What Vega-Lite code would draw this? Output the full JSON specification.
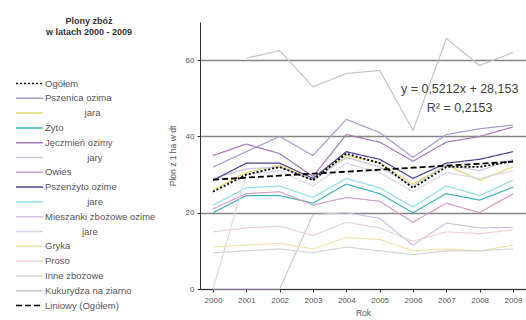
{
  "$schema": "https://vega.github.io/schema/vega-lite/v6.json",
  "width": 326,
  "height": 267,
  "autosize": "none",
  "padding": {"left": 200, "top": 22, "right": 0, "bottom": 31},
  "background": "white",
  "config": {
    "font": "Liberation Sans",
    "view": {"stroke": null},
    "axis": {
      "labelFont": "Liberation Sans",
      "labelFontSize": 8,
      "labelColor": "#555555",
      "titleFont": "Liberation Sans",
      "titleFontSize": 8.5,
      "titleFontWeight": "normal",
      "titleColor": "#555555",
      "domainColor": "#333333",
      "tickColor": "#333333",
      "tickSize": 3,
      "gridColor": "#858585",
      "gridWidth": 1.3
    },
    "legend": {
      "orient": "none",
      "legendX": -178,
      "legendY": -5,
      "padding": 0,
      "symbolType": "M-2,0H2",
      "symbolSize": 182,
      "symbolStrokeWidth": 1.5,
      "labelFont": "Liberation Sans",
      "labelFontSize": 9.5,
      "labelColor": "#555555",
      "labelOffset": 8,
      "rowPadding": 2.8,
      "titleFont": "Liberation Sans",
      "titleFontSize": 9,
      "titleFontWeight": "bold",
      "titleColor": "#333333",
      "titleAnchor": "middle",
      "titleAlign": "center",
      "titleLineHeight": 11,
      "titlePadding": 39
    }
  },
  "datasets": {
    "yields": [
      {"s": "Pszenica ozima", "year": "2000", "v": 32}, {"s": "Pszenica ozima", "year": "2001", "v": 36}, {"s": "Pszenica ozima", "year": "2002", "v": 40}, {"s": "Pszenica ozima", "year": "2003", "v": 35}, {"s": "Pszenica ozima", "year": "2004", "v": 44.5}, {"s": "Pszenica ozima", "year": "2005", "v": 41}, {"s": "Pszenica ozima", "year": "2006", "v": 34.5}, {"s": "Pszenica ozima", "year": "2007", "v": 40.5}, {"s": "Pszenica ozima", "year": "2008", "v": 42}, {"s": "Pszenica ozima", "year": "2009", "v": 43},
      {"s": "Pszenica jara", "year": "2000", "v": 26}, {"s": "Pszenica jara", "year": "2001", "v": 30.5}, {"s": "Pszenica jara", "year": "2002", "v": 32.5}, {"s": "Pszenica jara", "year": "2003", "v": 28.5}, {"s": "Pszenica jara", "year": "2004", "v": 35}, {"s": "Pszenica jara", "year": "2005", "v": 33}, {"s": "Pszenica jara", "year": "2006", "v": 27.5}, {"s": "Pszenica jara", "year": "2007", "v": 32.5}, {"s": "Pszenica jara", "year": "2008", "v": 28.5}, {"s": "Pszenica jara", "year": "2009", "v": 32},
      {"s": "Żyto", "year": "2000", "v": 20}, {"s": "Żyto", "year": "2001", "v": 24.5}, {"s": "Żyto", "year": "2002", "v": 24.5}, {"s": "Żyto", "year": "2003", "v": 22.5}, {"s": "Żyto", "year": "2004", "v": 27.5}, {"s": "Żyto", "year": "2005", "v": 25}, {"s": "Żyto", "year": "2006", "v": 20}, {"s": "Żyto", "year": "2007", "v": 25}, {"s": "Żyto", "year": "2008", "v": 23.3}, {"s": "Żyto", "year": "2009", "v": 26.7},
      {"s": "Jęczmień ozimy", "year": "2000", "v": 35}, {"s": "Jęczmień ozimy", "year": "2001", "v": 38}, {"s": "Jęczmień ozimy", "year": "2002", "v": 35.5}, {"s": "Jęczmień ozimy", "year": "2003", "v": 29.5}, {"s": "Jęczmień ozimy", "year": "2004", "v": 40.5}, {"s": "Jęczmień ozimy", "year": "2005", "v": 38.5}, {"s": "Jęczmień ozimy", "year": "2006", "v": 33.5}, {"s": "Jęczmień ozimy", "year": "2007", "v": 38.5}, {"s": "Jęczmień ozimy", "year": "2008", "v": 40}, {"s": "Jęczmień ozimy", "year": "2009", "v": 42.5},
      {"s": "Jęczmień jary", "year": "2000", "v": 29}, {"s": "Jęczmień jary", "year": "2001", "v": 31.5}, {"s": "Jęczmień jary", "year": "2002", "v": 32}, {"s": "Jęczmień jary", "year": "2003", "v": 28.5}, {"s": "Jęczmień jary", "year": "2004", "v": 34.5}, {"s": "Jęczmień jary", "year": "2005", "v": 32}, {"s": "Jęczmień jary", "year": "2006", "v": 27}, {"s": "Jęczmień jary", "year": "2007", "v": 32.5}, {"s": "Jęczmień jary", "year": "2008", "v": 31}, {"s": "Jęczmień jary", "year": "2009", "v": 34},
      {"s": "Owies", "year": "2000", "v": 21}, {"s": "Owies", "year": "2001", "v": 25}, {"s": "Owies", "year": "2002", "v": 25.5}, {"s": "Owies", "year": "2003", "v": 22}, {"s": "Owies", "year": "2004", "v": 24}, {"s": "Owies", "year": "2005", "v": 23}, {"s": "Owies", "year": "2006", "v": 17.5}, {"s": "Owies", "year": "2007", "v": 22.5}, {"s": "Owies", "year": "2008", "v": 20}, {"s": "Owies", "year": "2009", "v": 25},
      {"s": "Pszenżyto ozime", "year": "2000", "v": 28.5}, {"s": "Pszenżyto ozime", "year": "2001", "v": 33}, {"s": "Pszenżyto ozime", "year": "2002", "v": 33}, {"s": "Pszenżyto ozime", "year": "2003", "v": 29}, {"s": "Pszenżyto ozime", "year": "2004", "v": 36}, {"s": "Pszenżyto ozime", "year": "2005", "v": 34}, {"s": "Pszenżyto ozime", "year": "2006", "v": 29}, {"s": "Pszenżyto ozime", "year": "2007", "v": 33}, {"s": "Pszenżyto ozime", "year": "2008", "v": 34}, {"s": "Pszenżyto ozime", "year": "2009", "v": 36},
      {"s": "Pszenżyto jare", "year": "2000", "v": 22}, {"s": "Pszenżyto jare", "year": "2001", "v": 26.5}, {"s": "Pszenżyto jare", "year": "2002", "v": 27}, {"s": "Pszenżyto jare", "year": "2003", "v": 24}, {"s": "Pszenżyto jare", "year": "2004", "v": 29}, {"s": "Pszenżyto jare", "year": "2005", "v": 26.5}, {"s": "Pszenżyto jare", "year": "2006", "v": 21.5}, {"s": "Pszenżyto jare", "year": "2007", "v": 27}, {"s": "Pszenżyto jare", "year": "2008", "v": 24.5}, {"s": "Pszenżyto jare", "year": "2009", "v": 28.5},
      {"s": "Mieszanki zbożowe ozime", "year": "2000", "v": 0}, {"s": "Mieszanki zbożowe ozime", "year": "2001", "v": 0}, {"s": "Mieszanki zbożowe ozime", "year": "2002", "v": 0}, {"s": "Mieszanki zbożowe ozime", "year": "2003", "v": 19.5}, {"s": "Mieszanki zbożowe ozime", "year": "2004", "v": 20}, {"s": "Mieszanki zbożowe ozime", "year": "2005", "v": 18.5}, {"s": "Mieszanki zbożowe ozime", "year": "2006", "v": 11.5}, {"s": "Mieszanki zbożowe ozime", "year": "2007", "v": 17.3}, {"s": "Mieszanki zbożowe ozime", "year": "2008", "v": 16}, {"s": "Mieszanki zbożowe ozime", "year": "2009", "v": 16.2},
      {"s": "Mieszanki zbożowe jare", "year": "2000", "v": 0}, {"s": "Mieszanki zbożowe jare", "year": "2001", "v": 30}, {"s": "Mieszanki zbożowe jare", "year": "2002", "v": 31}, {"s": "Mieszanki zbożowe jare", "year": "2003", "v": 27}, {"s": "Mieszanki zbożowe jare", "year": "2004", "v": 33}, {"s": "Mieszanki zbożowe jare", "year": "2005", "v": 30.5}, {"s": "Mieszanki zbożowe jare", "year": "2006", "v": 25.5}, {"s": "Mieszanki zbożowe jare", "year": "2007", "v": 30.5}, {"s": "Mieszanki zbożowe jare", "year": "2008", "v": 29}, {"s": "Mieszanki zbożowe jare", "year": "2009", "v": 31},
      {"s": "Gryka", "year": "2000", "v": 11}, {"s": "Gryka", "year": "2001", "v": 11.5}, {"s": "Gryka", "year": "2002", "v": 12}, {"s": "Gryka", "year": "2003", "v": 10.5}, {"s": "Gryka", "year": "2004", "v": 13.5}, {"s": "Gryka", "year": "2005", "v": 13}, {"s": "Gryka", "year": "2006", "v": 10}, {"s": "Gryka", "year": "2007", "v": 10.5}, {"s": "Gryka", "year": "2008", "v": 10}, {"s": "Gryka", "year": "2009", "v": 11.5},
      {"s": "Proso", "year": "2000", "v": 15}, {"s": "Proso", "year": "2001", "v": 16}, {"s": "Proso", "year": "2002", "v": 16.5}, {"s": "Proso", "year": "2003", "v": 14}, {"s": "Proso", "year": "2004", "v": 17.5}, {"s": "Proso", "year": "2005", "v": 16}, {"s": "Proso", "year": "2006", "v": 12.5}, {"s": "Proso", "year": "2007", "v": 15}, {"s": "Proso", "year": "2008", "v": 14.5}, {"s": "Proso", "year": "2009", "v": 15.5},
      {"s": "Inne zbożowe", "year": "2000", "v": 9.5}, {"s": "Inne zbożowe", "year": "2001", "v": 10}, {"s": "Inne zbożowe", "year": "2002", "v": 10.5}, {"s": "Inne zbożowe", "year": "2003", "v": 9.5}, {"s": "Inne zbożowe", "year": "2004", "v": 11}, {"s": "Inne zbożowe", "year": "2005", "v": 10}, {"s": "Inne zbożowe", "year": "2006", "v": 9}, {"s": "Inne zbożowe", "year": "2007", "v": 10}, {"s": "Inne zbożowe", "year": "2008", "v": 10}, {"s": "Inne zbożowe", "year": "2009", "v": 10.5},
      {"s": "Kukurydza na ziarno", "year": "2001", "v": 60.5}, {"s": "Kukurydza na ziarno", "year": "2002", "v": 62.5}, {"s": "Kukurydza na ziarno", "year": "2003", "v": 53}, {"s": "Kukurydza na ziarno", "year": "2004", "v": 56.5}, {"s": "Kukurydza na ziarno", "year": "2005", "v": 57.3}, {"s": "Kukurydza na ziarno", "year": "2006", "v": 41.6}, {"s": "Kukurydza na ziarno", "year": "2007", "v": 65.7}, {"s": "Kukurydza na ziarno", "year": "2008", "v": 58.6}, {"s": "Kukurydza na ziarno", "year": "2009", "v": 62},
      {"s": "Ogółem", "year": "2000", "v": 25.5}, {"s": "Ogółem", "year": "2001", "v": 30}, {"s": "Ogółem", "year": "2002", "v": 32}, {"s": "Ogółem", "year": "2003", "v": 28.5}, {"s": "Ogółem", "year": "2004", "v": 35.5}, {"s": "Ogółem", "year": "2005", "v": 33}, {"s": "Ogółem", "year": "2006", "v": 26.5}, {"s": "Ogółem", "year": "2007", "v": 32}, {"s": "Ogółem", "year": "2008", "v": 32}, {"s": "Ogółem", "year": "2009", "v": 33.5},
      {"s": "Liniowy (Ogółem)", "year": "2000", "v": 28.67}, {"s": "Liniowy (Ogółem)", "year": "2001", "v": 29.2}, {"s": "Liniowy (Ogółem)", "year": "2002", "v": 29.72}, {"s": "Liniowy (Ogółem)", "year": "2003", "v": 30.24}, {"s": "Liniowy (Ogółem)", "year": "2004", "v": 30.76}, {"s": "Liniowy (Ogółem)", "year": "2005", "v": 31.28}, {"s": "Liniowy (Ogółem)", "year": "2006", "v": 31.8}, {"s": "Liniowy (Ogółem)", "year": "2007", "v": 32.32}, {"s": "Liniowy (Ogółem)", "year": "2008", "v": 32.84}, {"s": "Liniowy (Ogółem)", "year": "2009", "v": 33.37}
    ],
    "notes": [
      {"label": "y = 0,5212x + 28,153", "year": "2008", "v": 52.4},
      {"label": "R² = 0,2153", "year": "2008", "v": 47.4}
    ]
  },
  "layer": [
    {
      "data": {"name": "yields"},
      "transform": [{"filter": "datum.s != 'Ogółem' && datum.s != 'Liniowy (Ogółem)'"}],
      "mark": {"type": "line", "strokeWidth": 1.2},
      "encoding": {
        "x": {
          "field": "year", "type": "ordinal",
          "scale": {"type": "point", "padding": 0.39, "domain": ["2000","2001","2002","2003","2004","2005","2006","2007","2008","2009"]},
          "axis": {"title": "Rok", "labelAngle": 0, "grid": false, "labelPadding": 4, "titleY": 23, "titleBaseline": "middle"}
        },
        "y": {
          "field": "v", "type": "quantitative",
          "scale": {"domain": [0, 70], "nice": false},
          "axis": {"title": "Plon z 1 ha w dt", "values": [0,10,20,30,40,50,60,70], "grid": true, "labelPadding": 3, "titleX": -28, "titleY": 133.5, "titleBaseline": "middle"}
        },
        "color": {
          "field": "s", "type": "nominal",
          "scale": {
            "domain": ["Ogółem","Pszenica ozima","Pszenica jara","Żyto","Jęczmień ozimy","Jęczmień jary","Owies","Pszenżyto ozime","Pszenżyto jare","Mieszanki zbożowe ozime","Mieszanki zbożowe jare","Gryka","Proso","Inne zbożowe","Kukurydza na ziarno","Liniowy (Ogółem)"],
            "range": ["#000000","#a59bd0","#e6d66e","#3fb2b8","#a678b8","#c6c6dc","#d0a0c8","#4b4090","#8fdfe6","#cfc0e0","#dcd6ea","#efe4a8","#ecd0dc","#d4d4d4","#c4c4c4","#000000"]
          },
          "legend": {
            "title": ["Plony zbóż", "w latach 2000 - 2009"],
            "labelExpr": "datum.label == 'Pszenica jara' ? '\u200b\u00a0\u00a0\u00a0\u00a0\u00a0\u00a0\u00a0\u00a0\u00a0\u00a0\u00a0\u00a0\u00a0\u00a0\u00a0jara' : datum.label == 'Jęczmień jary' ? '\u200b\u00a0\u00a0\u00a0\u00a0\u00a0\u00a0\u00a0\u00a0\u00a0\u00a0\u00a0\u00a0\u00a0\u00a0\u00a0\u00a0jary' : datum.label == 'Pszenżyto jare' ? '\u200b\u00a0\u00a0\u00a0\u00a0\u00a0\u00a0\u00a0\u00a0\u00a0\u00a0\u00a0\u00a0\u00a0\u00a0\u00a0\u00a0jare' : datum.label == 'Mieszanki zbożowe jare' ? '\u200b\u00a0\u00a0\u00a0\u00a0\u00a0\u00a0\u00a0\u00a0\u00a0\u00a0\u00a0\u00a0\u00a0\u00a0jare' : datum.label"
          }
        },
        "strokeDash": {
          "field": "s", "type": "nominal",
          "scale": {
            "domain": ["Ogółem","Pszenica ozima","Pszenica jara","Żyto","Jęczmień ozimy","Jęczmień jary","Owies","Pszenżyto ozime","Pszenżyto jare","Mieszanki zbożowe ozime","Mieszanki zbożowe jare","Gryka","Proso","Inne zbożowe","Kukurydza na ziarno","Liniowy (Ogółem)"],
            "range": [[2,2],[1,0],[1,0],[1,0],[1,0],[1,0],[1,0],[1,0],[1,0],[1,0],[1,0],[1,0],[1,0],[1,0],[1,0],[6,3]]
          },
          "legend": {
            "title": ["Plony zbóż", "w latach 2000 - 2009"],
            "labelExpr": "datum.label == 'Pszenica jara' ? '\u200b\u00a0\u00a0\u00a0\u00a0\u00a0\u00a0\u00a0\u00a0\u00a0\u00a0\u00a0\u00a0\u00a0\u00a0\u00a0jara' : datum.label == 'Jęczmień jary' ? '\u200b\u00a0\u00a0\u00a0\u00a0\u00a0\u00a0\u00a0\u00a0\u00a0\u00a0\u00a0\u00a0\u00a0\u00a0\u00a0\u00a0jary' : datum.label == 'Pszenżyto jare' ? '\u200b\u00a0\u00a0\u00a0\u00a0\u00a0\u00a0\u00a0\u00a0\u00a0\u00a0\u00a0\u00a0\u00a0\u00a0\u00a0\u00a0jare' : datum.label == 'Mieszanki zbożowe jare' ? '\u200b\u00a0\u00a0\u00a0\u00a0\u00a0\u00a0\u00a0\u00a0\u00a0\u00a0\u00a0\u00a0\u00a0\u00a0jare' : datum.label"
          }
        }
      }
    },
    {
      "data": {"name": "yields"},
      "transform": [{"filter": "datum.s == 'Ogółem' || datum.s == 'Liniowy (Ogółem)'"}],
      "mark": {"type": "line", "strokeWidth": 1.8},
      "encoding": {
        "x": {"field": "year", "type": "ordinal"},
        "y": {"field": "v", "type": "quantitative"},
        "color": {"field": "s", "type": "nominal"},
        "strokeDash": {"field": "s", "type": "nominal"}
      }
    },
    {
      "data": {"name": "notes"},
      "mark": {"type": "text", "font": "Liberation Sans", "fontSize": 12.5, "color": "#404040", "align": "center", "baseline": "middle", "dx": -20},
      "encoding": {
        "x": {"field": "year", "type": "ordinal"},
        "y": {"field": "v", "type": "quantitative"},
        "text": {"field": "label", "type": "nominal"}
      }
    }
  ]
}
